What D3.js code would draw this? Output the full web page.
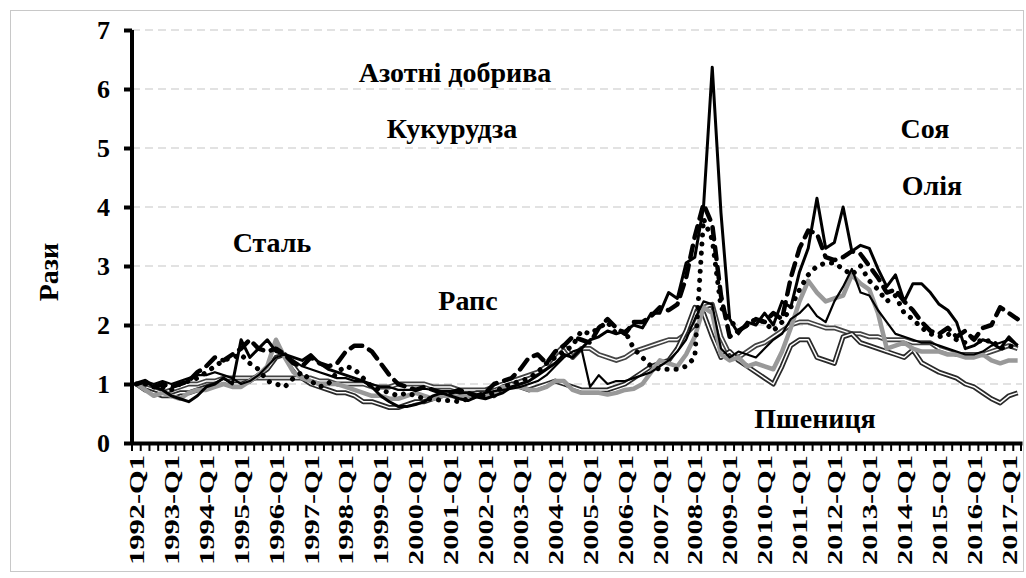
<!DOCTYPE html>
<html>
<head>
<meta charset="utf-8">
<script src="https://cdn.jsdelivr.net/npm/d3@7"></script>
<style>
  body { margin: 0; background: #fff; }
  text { font-family: "Liberation Serif", "Times New Roman", serif; font-weight: bold; fill: #000; }
</style>
</head>
<body>
<div id="chart-area"></div>
<script>
// Роки та квартали (1992-Q1 ... 2017-Q2)
const years = d3.range(1992, 2018);
const quarters = [];
years.forEach(yr => [1, 2, 3, 4].forEach(q => {
    if (yr < 2017 || q <= 2) quarters.push(`${yr}-Q${q}`);
}));
const yTicks = [0, 1, 2, 3, 4, 5, 6, 7];

// Серії (індекси цін, разів до 1992-Q1)
const azotni = [
    1.00, 1.05, 0.95, 0.90,  0.80, 0.75, 0.70, 0.80,  0.95, 1.00, 1.10, 1.00,
    1.75, 1.45, 1.60, 1.75,  1.55, 1.50, 1.45, 1.40,  1.50, 1.35, 1.25, 1.20,
    1.15, 1.10, 1.05, 0.95,  0.80, 0.70, 0.62, 0.62,  0.65, 0.70, 0.80, 0.85,
    0.80, 0.75, 0.72, 0.78,  0.75, 0.80, 0.85, 0.95,  1.00, 1.05, 1.15, 1.25,
    1.35, 1.50, 1.45, 1.60,  1.75, 1.80, 1.90, 1.85,  1.90, 2.00, 1.95, 2.20,
    2.20, 2.55, 2.45, 3.05,  3.15, 4.00, 6.37, 3.90,  2.10, 1.85, 2.05, 2.00,
    2.20, 2.00, 2.40, 2.30,  2.90, 3.30, 4.15, 3.30,  3.40, 4.00, 3.25, 3.35,
    3.30, 2.95, 2.65, 2.85,  2.40, 2.70, 2.70, 2.55,  2.35, 2.25, 2.05, 1.60,
    1.65, 1.75, 1.70, 1.60,  1.80, 1.65
];
const soya = [
    1.00, 1.05, 0.95, 1.00,  0.95, 1.00, 1.05, 1.20,  1.30, 1.45, 1.40, 1.50,
    1.60, 1.75, 1.60, 1.55,  1.60, 1.50, 1.35, 1.30,  1.45, 1.35, 1.30, 1.35,
    1.55, 1.65, 1.65, 1.55,  1.35, 1.15, 1.00, 0.95,  0.90, 0.95, 0.90, 0.85,
    0.85, 0.90, 0.85, 0.80,  0.85, 1.00, 1.05, 1.10,  1.25, 1.45, 1.50, 1.35,
    1.55, 1.65, 1.80, 1.75,  1.70, 1.95, 2.10, 1.95,  1.85, 2.05, 2.05, 2.15,
    2.30, 2.25, 2.35, 2.80,  3.50, 4.05, 3.70, 2.50,  1.80, 1.90, 2.00, 2.10,
    2.05, 2.20, 2.10, 2.80,  3.30, 3.60, 3.55, 3.15,  3.10, 3.15, 3.25, 3.20,
    3.00, 2.80, 2.55, 2.60,  2.40, 2.25, 2.05, 1.90,  1.85, 1.95, 1.80, 1.90,
    1.75, 1.95, 2.00, 2.30,  2.20, 2.10
];
const oliya = [
    1.00, 1.00, 0.95, 0.95,  0.90, 1.00, 1.05, 1.10,  1.20, 1.30, 1.40, 1.45,
    1.50, 1.35, 1.25, 1.05,  1.00, 0.95, 1.10, 1.20,  1.05, 0.95, 1.00, 1.20,
    1.30, 1.25, 1.10, 0.95,  0.90, 0.85, 0.80, 0.85,  0.80, 0.75, 0.75, 0.72,
    0.72, 0.70, 0.75, 0.80,  0.80, 0.85, 0.95, 1.00,  1.05, 1.10, 1.20, 1.35,
    1.45, 1.55, 1.65, 1.90,  1.85, 1.95, 2.05, 1.85,  1.90, 1.60, 1.45, 1.30,
    1.25, 1.25, 1.25, 1.30,  1.45, 3.80, 3.45, 2.30,  2.10, 1.90, 2.00, 2.10,
    2.05, 1.90, 2.05, 2.30,  2.60, 2.85, 3.00, 3.05,  3.05, 2.95, 2.85, 3.00,
    2.75, 2.60, 2.40, 2.50,  2.20, 2.10, 1.95, 1.85,  1.80, 1.85, 1.75, 1.70,
    1.80, 1.70, 1.75, 1.60,  1.65, 1.60
];
const kukurudza = [
    1.00, 0.90, 0.80, 0.85,  0.80, 0.75, 0.85, 0.90,  0.90, 0.95, 1.00, 0.95,
    0.95, 1.05, 1.15, 1.30,  1.75, 1.45, 1.20, 1.10,  1.05, 1.00, 1.00, 1.00,
    0.95, 0.90, 0.85, 0.80,  0.80, 0.75, 0.75, 0.80,  0.85, 0.80, 0.75, 0.80,
    0.80, 0.78, 0.80, 0.82,  0.80, 0.85, 0.95, 0.95,  0.95, 0.90, 0.90, 0.95,
    1.05, 1.05, 0.90, 0.85,  0.85, 0.85, 0.82, 0.85,  0.90, 0.92, 1.00, 1.20,
    1.40, 1.35, 1.30, 1.50,  1.80, 2.30, 2.20, 1.50,  1.40, 1.45, 1.30, 1.35,
    1.30, 1.25, 1.55, 1.95,  2.40, 2.75, 2.55, 2.40,  2.45, 2.50, 2.85, 2.70,
    2.60, 2.20, 1.60, 1.65,  1.70, 1.60, 1.55, 1.55,  1.55, 1.50, 1.50, 1.45,
    1.45, 1.50, 1.40, 1.35,  1.40, 1.40
];
const raps = [
    1.00, 1.05, 1.00, 1.05,  1.00, 1.05, 1.10, 1.15,  1.15, 1.20, 1.15, 1.10,
    1.00, 1.05, 1.15, 1.30,  1.45, 1.50, 1.40, 1.30,  1.25, 1.20, 1.15, 1.10,
    1.10, 1.05, 1.05, 1.00,  0.95, 0.95, 0.90, 0.90,  0.90, 0.92, 0.90, 0.88,
    0.88, 0.85, 0.85, 0.82,  0.85, 0.88, 0.90, 0.92,  0.95, 1.00, 1.05, 1.15,
    1.30, 1.45, 1.55, 1.60,  0.95, 1.15, 1.00, 1.05,  1.05, 1.10, 1.15, 1.20,
    1.30, 1.40, 1.55, 1.75,  2.10, 2.40, 2.35, 1.60,  1.45, 1.55, 1.50, 1.45,
    1.60, 1.75, 1.85, 2.10,  2.20, 2.35, 2.15, 2.05,  2.40, 2.65, 2.95, 2.55,
    2.50, 2.25, 2.05, 1.85,  1.80, 1.75, 1.70, 1.70,  1.65, 1.60, 1.55, 1.50,
    1.50, 1.55, 1.65, 1.70,  1.75, 1.65
];
const stal = [
    1.00, 0.95, 0.90, 0.85,  0.90, 0.95, 1.00, 1.00,  1.05, 1.05, 1.10, 1.10,
    1.10, 1.10, 1.10, 1.10,  1.10, 1.10, 1.10, 1.10,  1.10, 1.05, 1.05, 1.00,
    1.00, 1.00, 1.00, 0.95,  0.95, 0.95, 1.00, 1.00,  1.00, 1.00, 0.95, 0.95,
    0.95, 0.90, 0.90, 0.90,  0.90, 0.95, 1.00, 1.05,  1.10, 1.15, 1.20, 1.30,
    1.50, 1.65, 1.45, 1.60,  1.60, 1.50, 1.45, 1.40,  1.45, 1.55, 1.60, 1.65,
    1.70, 1.75, 1.75, 1.85,  2.00, 2.30, 2.35, 1.80,  1.50, 1.45, 1.55, 1.65,
    1.70, 1.80, 1.90, 2.00,  2.05, 2.05, 2.00, 1.95,  1.95, 1.90, 1.85, 1.85,
    1.80, 1.80, 1.75, 1.75,  1.75, 1.70, 1.70, 1.70,  1.60, 1.55, 1.50, 1.50,
    1.50, 1.50, 1.55, 1.60,  1.65, 1.60
];
const pshenytsia = [
    1.00, 0.90, 0.85, 0.80,  0.80, 0.85, 0.85, 0.90,  0.95, 1.00, 1.05, 1.00,
    1.00, 1.05, 1.15, 1.25,  1.45, 1.50, 1.30, 1.10,  1.00, 0.95, 0.90, 0.85,
    0.85, 0.80, 0.70, 0.70,  0.65, 0.60, 0.60, 0.65,  0.70, 0.70, 0.75, 0.80,
    0.85, 0.80, 0.80, 0.85,  0.85, 0.80, 0.95, 1.00,  0.95, 0.90, 0.95, 1.00,
    1.05, 1.00, 0.95, 0.90,  0.90, 0.90, 0.90, 0.95,  1.00, 1.10, 1.20, 1.30,
    1.35, 1.40, 1.60, 1.90,  2.30, 2.20, 1.80, 1.45,  1.55, 1.40, 1.30, 1.20,
    1.10, 1.00, 1.30, 1.65,  1.75, 1.75, 1.45, 1.40,  1.35, 1.80, 1.85, 1.70,
    1.65, 1.60, 1.55, 1.50,  1.45, 1.58, 1.36, 1.28,  1.20, 1.15, 1.10, 1.00,
    0.95, 0.85, 0.75, 0.68,  0.80, 0.85
];

// Підписи серій на полі графіка
const labels = [
    { text: "Азотні добрива", x: 455, y: 82 },
    { text: "Кукурудза", x: 452, y: 138 },
    { text: "Соя", x: 925, y: 138 },
    { text: "Олія", x: 932, y: 195 },
    { text: "Сталь", x: 272, y: 252 },
    { text: "Рапс", x: 468, y: 310 },
    { text: "Пшениця", x: 815, y: 428 }
];

// Розміри
const W = 1026, H = 578;
const plot = { left: 132, right: 1022, top: 30, bottom: 443 };

const svg = d3.select("#chart-area")
    .append("svg")
    .attr("width", W)
    .attr("height", H);

svg.append("rect")
    .attr("x", 10.5).attr("y", 10.5)
    .attr("width", 1013).attr("height", 561)
    .attr("fill", "none")
    .attr("stroke", "#c8c8c8");

const x = d3.scaleBand().domain(quarters).range([plot.left, plot.right]);
const y = d3.scaleLinear().domain([0, 7]).range([plot.bottom, plot.top]);
const bw = x.bandwidth();

// Сітка
svg.append("g")
    .selectAll("line")
    .data(yTicks.filter(d => d > 0))
    .enter().append("line")
    .attr("x1", plot.left).attr("x2", plot.right)
    .attr("y1", d => y(d)).attr("y2", d => y(d))
    .attr("stroke", "#d9d9d9")
    .attr("stroke-width", 1.5)
    .attr("stroke-dasharray", "8,5");

// Лінії
const line = d3.line()
    .x((d, i) => x(quarters[i]) + bw / 2)
    .y(d => y(d));

const series = [
    { data: stal, style: "double", color: "#444" },
    { data: pshenytsia, style: "double", color: "#2a2a2a" },
    { data: kukurudza, style: "gray" },
    { data: raps, style: "thin" },
    { data: oliya, style: "dot" },
    { data: soya, style: "dash" },
    { data: azotni, style: "solid" }
];

const lines = svg.append("g").attr("fill", "none").attr("stroke-linejoin", "round");

series.forEach(s => {
    const p = lines.append("path").attr("d", line(s.data));
    if (s.style === "double") {
        p.attr("stroke", s.color).attr("stroke-width", 5);
        lines.append("path").attr("d", line(s.data))
            .attr("stroke", "#fff").attr("stroke-width", 1.5);
    } else if (s.style === "gray") {
        p.attr("stroke", "#999").attr("stroke-width", 4.5);
    } else if (s.style === "thin") {
        p.attr("stroke", "#000").attr("stroke-width", 2.2);
    } else if (s.style === "dot") {
        p.attr("stroke", "#000").attr("stroke-width", 5)
            .attr("stroke-linecap", "round").attr("stroke-dasharray", "0.1,9");
    } else if (s.style === "dash") {
        p.attr("stroke", "#000").attr("stroke-width", 4.5)
            .attr("stroke-linecap", "round").attr("stroke-dasharray", "12,8");
    } else {
        p.attr("stroke", "#000").attr("stroke-width", 3);
    }
});

// Вісь Y
const yAxis = svg.append("g")
    .attr("transform", `translate(${plot.left}, 0)`)
    .call(d3.axisLeft(y).tickValues(yTicks).tickSize(8).tickPadding(14).tickFormat(d3.format("d")));
yAxis.select(".domain").attr("stroke", "#000").attr("stroke-width", 4)
    .attr("d", `M0,${plot.top}V${plot.bottom}`);
yAxis.selectAll(".tick line").attr("stroke", "#000").attr("stroke-width", 4);
yAxis.selectAll(".tick text")
    .style("font-size", "26px")
    .style("font-family", "'Liberation Serif', serif")
    .style("font-weight", "bold")
    .attr("dy", "0.34em");

// Вісь X
const xAxis = svg.append("g")
    .attr("transform", `translate(0, ${plot.bottom})`)
    .call(d3.axisBottom(x).tickSize(8).tickSizeOuter(0)
        .tickFormat(d => d.endsWith("Q1") ? d : ""));
xAxis.select(".domain").attr("stroke", "#000").attr("stroke-width", 4);
xAxis.selectAll(".tick line")
    .attr("stroke", "#000").attr("stroke-width", 2)
    .attr("transform", `translate(${-bw / 2}, 0)`);
xAxis.append("line")
    .attr("x1", plot.right - 1).attr("x2", plot.right - 1)
    .attr("y1", 0).attr("y2", 8)
    .attr("stroke", "#000").attr("stroke-width", 2);
xAxis.selectAll(".tick text")
    .filter(d => d.endsWith("Q1"))
    .attr("transform", "rotate(-90)")
    .attr("text-anchor", "end")
    .attr("x", -12).attr("y", 0).attr("dy", "0.35em")
    .attr("textLength", 110)
    .attr("lengthAdjust", "spacingAndGlyphs")
    .style("font-size", "22px")
    .style("font-family", "'Liberation Serif', serif")
    .style("font-weight", "bold");

// Назва осі Y
svg.append("text")
    .attr("transform", "translate(58, 272) rotate(-90)")
    .attr("text-anchor", "middle")
    .style("font-size", "28px")
    .text("Рази");

// Підписи серій
svg.append("g")
    .selectAll("text")
    .data(labels)
    .enter().append("text")
    .attr("x", d => d.x)
    .attr("y", d => d.y)
    .attr("text-anchor", "middle")
    .style("font-size", "28px")
    .text(d => d.text);
</script>
</body>
</html>
